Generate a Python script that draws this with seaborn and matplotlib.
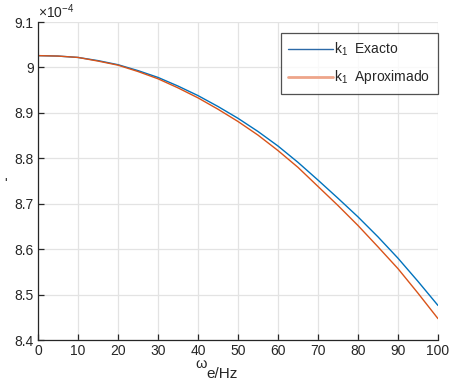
import matplotlib
matplotlib.use("Agg")
import matplotlib.pyplot as plt
from matplotlib.ticker import FuncFormatter
import seaborn as sns
import pandas as pd

# Excitation frequency (Hz) and stiffness k1 from the exact and approximated models
freq_hz = [0, 5, 10, 15, 20, 25, 30, 35, 40, 45, 50,
           55, 60, 65, 70, 75, 80, 85, 90, 95, 100]
k1_exacto = [9.026e-4, 9.025e-4, 9.022e-4, 9.015e-4, 9.006e-4, 8.993e-4,
             8.978e-4, 8.959e-4, 8.938e-4, 8.914e-4, 8.888e-4, 8.859e-4,
             8.827e-4, 8.791e-4, 8.752e-4, 8.712e-4, 8.671e-4, 8.627e-4,
             8.580e-4, 8.529e-4, 8.476e-4]
k1_aprox = [9.026e-4, 9.025e-4, 9.022e-4, 9.014e-4, 9.005e-4, 8.991e-4,
            8.975e-4, 8.955e-4, 8.933e-4, 8.908e-4, 8.881e-4, 8.851e-4,
            8.817e-4, 8.780e-4, 8.738e-4, 8.696e-4, 8.652e-4, 8.605e-4,
            8.557e-4, 8.503e-4, 8.447e-4]
series_names = [r"k$_1$  Exacto", r"k$_1$  Aproximado"]
x_ticks = list(range(0, 101, 10))
y_ticks = [8.4e-4, 8.5e-4, 8.6e-4, 8.7e-4, 8.8e-4, 8.9e-4, 9.0e-4, 9.1e-4]

df = pd.DataFrame({
    "f": freq_hz * 2,
    "k1": k1_exacto + k1_aprox,
    "serie": [series_names[0]] * len(freq_hz) + [series_names[1]] * len(freq_hz),
})

sns.set_style("white")
plt.rcParams["font.family"] = ["Liberation Sans", "DejaVu Sans"]
plt.rcParams["mathtext.fontset"] = "custom"
plt.rcParams["mathtext.rm"] = "Liberation Sans"
plt.rcParams["mathtext.it"] = "Liberation Sans:italic"
plt.rcParams["mathtext.default"] = "regular"

fig = plt.figure(figsize=(4.51, 3.83), dpi=100)
ax = fig.add_axes([38 / 451, 1 - 340 / 383, 400 / 451, 318 / 383])

palette = {series_names[0]: "#0072BD", series_names[1]: "#D95319"}
sns.lineplot(data=df, x="f", y="k1", hue="serie", palette=palette,
             linewidth=1.0, ax=ax, legend=True)

ax.set_xlim(0, 100)
ax.set_ylim(8.4e-4, 9.1e-4)
ax.set_xticks(x_ticks)
ax.set_yticks(y_ticks)
ax.yaxis.set_major_formatter(FuncFormatter(lambda v, p: f"{v * 1e4:g}"))
ax.grid(True, color="#e3e3e3", linewidth=0.9)
ax.set_axisbelow(True)
for side in ("top", "right"):
    ax.spines[side].set_visible(False)
for side in ("left", "bottom"):
    ax.spines[side].set_color("#262626")
    ax.spines[side].set_linewidth(0.9)
ax.tick_params(direction="in", length=4, width=0.9, color="#262626",
               labelsize=10, labelcolor="#262626", left=True, bottom=True, pad=3)
ax.set_xlabel("")
ax.set_ylabel("")

# Exponent above the y axis
fig.text(38 / 451, 1 - 18 / 383, r"$\times10^{-4}$", ha="left", va="baseline",
         fontsize=10, color="#262626")

# Frequency axis title
fig.text(195 / 451, 1 - 368 / 383, "\u03c9", ha="left", va="baseline",
         fontsize=10.5, color="#262626")
fig.text(206 / 451, 1 - 378 / 383, "e/Hz", ha="left", va="baseline",
         fontsize=11, color="#262626")
fig.text(6 / 451, 1 - 184 / 383, "'", ha="center", va="center",
         fontsize=10, color="#262626")

leg = ax.legend(loc="upper right", bbox_to_anchor=(1.0, 1 - 11 / 318),
                borderaxespad=0, frameon=True, fancybox=False, fontsize=10,
                handlelength=3.2, handletextpad=0.1, borderpad=0.55,
                labelspacing=0.75)
leg.get_frame().set_edgecolor("#262626")
leg.get_frame().set_linewidth(0.9)
leg_lines = leg.get_lines()
leg_lines[0].set_color("#2c6aa8")
leg_lines[0].set_linewidth(1.0)
leg_lines[1].set_color("#eea58a")
leg_lines[1].set_linewidth(2.0)

fig.savefig("out.png", dpi=100)
